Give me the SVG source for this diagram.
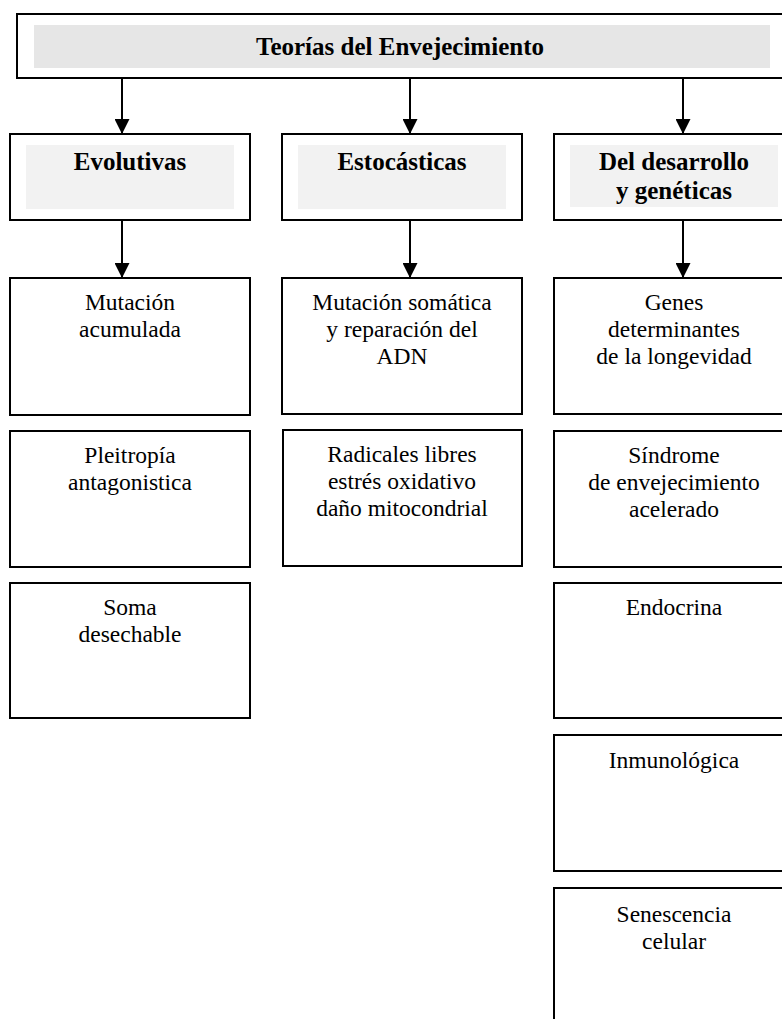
<svg xmlns="http://www.w3.org/2000/svg" width="782" height="1019" viewBox="0 0 782 1019">
<defs>
<style>
.box{fill:#fff;stroke:#000;stroke-width:2}
.g1{fill:#e6e6e6}
.g2{fill:#f2f2f2}
.b{font-family:"Liberation Serif","Times New Roman",serif;font-weight:bold;font-size:25px;text-anchor:middle;fill:#000}
.t{font-family:"Liberation Serif","Times New Roman",serif;font-size:23.5px;text-anchor:middle;fill:#000}
.c{stroke:#000;stroke-width:2;fill:none}
</style>
<marker id="ah" markerWidth="15" markerHeight="15" refX="15" refY="7.5" orient="auto" markerUnits="userSpaceOnUse">
<path d="M0,0 L15,7.5 L0,15 Z" fill="#000"/>
</marker>
</defs>
<rect width="782" height="1019" fill="#fff"/>

<g id="title">
<rect class="box" x="17" y="14" width="800" height="64"/>
<rect class="g1" x="34" y="25" width="736" height="43"/>
<text class="b" x="400" y="55">Teorías del Envejecimiento</text>
</g>

<g id="evolutivas">
<rect class="box" x="10" y="134" width="240" height="86"/>
<rect class="g2" x="26" y="145" width="208" height="64"/>
<text class="b" x="130" y="170">Evolutivas</text>
</g>
<g id="estocasticas">
<rect class="box" x="282" y="134" width="240" height="86"/>
<rect class="g2" x="298" y="145" width="208" height="64"/>
<text class="b" x="402" y="170">Estocásticas</text>
</g>
<g id="desarrollo">
<rect class="box" x="554" y="134" width="240" height="86"/>
<rect class="g2" x="570" y="145" width="208" height="62"/>
<text class="b" x="674" y="170">Del desarrollo</text>
<text class="b" x="674" y="199">y genéticas</text>
</g>

<g id="mutacion-acumulada">
<rect class="box" x="10" y="278" width="240" height="137"/>
<text class="t" x="130" y="310">Mutación</text>
<text class="t" x="130" y="337">acumulada</text>
</g>
<g id="pleitropia">
<rect class="box" x="10" y="431" width="240" height="136"/>
<text class="t" x="130" y="463">Pleitropía</text>
<text class="t" x="130" y="490">antagonistica</text>
</g>
<g id="soma">
<rect class="box" x="10" y="583" width="240" height="135"/>
<text class="t" x="130" y="615">Soma</text>
<text class="t" x="130" y="642">desechable</text>
</g>

<g id="mutacion-somatica">
<rect class="box" x="282" y="278" width="240" height="136"/>
<text class="t" x="402" y="310">Mutación somática</text>
<text class="t" x="402" y="337">y reparación del</text>
<text class="t" x="402" y="364">ADN</text>
</g>
<g id="radicales">
<rect class="box" x="283" y="430" width="239" height="136"/>
<text class="t" x="402" y="462">Radicales libres</text>
<text class="t" x="402" y="489">estrés oxidativo</text>
<text class="t" x="402" y="516">daño mitocondrial</text>
</g>

<g id="genes">
<rect class="box" x="554" y="278" width="240" height="136"/>
<text class="t" x="674" y="310">Genes</text>
<text class="t" x="674" y="337">determinantes</text>
<text class="t" x="674" y="364">de la longevidad</text>
</g>
<g id="sindrome">
<rect class="box" x="554" y="431" width="240" height="136"/>
<text class="t" x="674" y="463">Síndrome</text>
<text class="t" x="674" y="490">de envejecimiento</text>
<text class="t" x="674" y="517">acelerado</text>
</g>
<g id="endocrina">
<rect class="box" x="554" y="583" width="240" height="135"/>
<text class="t" x="674" y="615">Endocrina</text>
</g>
<g id="inmunologica">
<rect class="box" x="554" y="735" width="240" height="136"/>
<text class="t" x="674" y="768">Inmunológica</text>
</g>
<g id="senescencia">
<rect class="box" x="554" y="888" width="240" height="140"/>
<text class="t" x="674" y="922">Senescencia</text>
<text class="t" x="674" y="949">celular</text>
</g>

<g id="connectors">
<line class="c" x1="122" y1="78" x2="122" y2="134" marker-end="url(#ah)"/>
<line class="c" x1="410" y1="78" x2="410" y2="134" marker-end="url(#ah)"/>
<line class="c" x1="683" y1="78" x2="683" y2="134" marker-end="url(#ah)"/>
<line class="c" x1="122" y1="220" x2="122" y2="278" marker-end="url(#ah)"/>
<line class="c" x1="410" y1="220" x2="410" y2="278" marker-end="url(#ah)"/>
<line class="c" x1="683" y1="220" x2="683" y2="278" marker-end="url(#ah)"/>
</g>
</svg>
